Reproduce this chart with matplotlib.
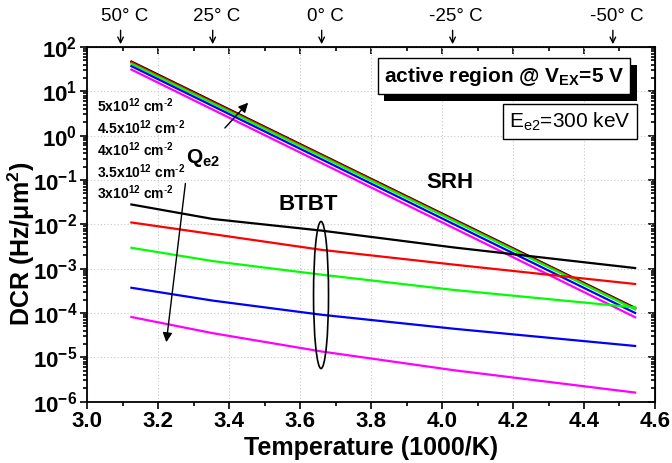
import numpy as np
import matplotlib
matplotlib.use('Agg')
from matplotlib import pyplot as plt
from matplotlib.patches import Ellipse
from matplotlib.ticker import MultipleLocator, LogLocator, NullFormatter
from matplotlib import patheffects

plt.rcParams['font.family'] = ['Liberation Sans', 'DejaVu Sans']
plt.rcParams['mathtext.fontset'] = 'custom'
plt.rcParams['mathtext.rm'] = 'Liberation Sans'
plt.rcParams['mathtext.bf'] = 'Liberation Sans:bold'
plt.rcParams['mathtext.it'] = 'Liberation Sans:italic'
plt.rcParams['mathtext.default'] = 'bf'

# inverse temperature points (1000/K)
inv_t = [3.125, 3.354, 3.661, 4.034, 4.544]

# SRH contribution, per Q_e2 dose
srh_5 = [47, 5.96, 0.373, 0.0129, 1.3e-4]
srh_45 = [45, 5.70, 0.359, 0.0124, 1.25e-4]
srh_4 = [42, 5.35, 0.338, 0.0118, 1.2e-4]
srh_35 = [37, 4.67, 0.292, 0.0100, 1.0e-4]
srh_3 = [31, 3.88, 0.240, 0.00815, 8e-5]

# BTBT contribution, per Q_e2 dose
btbt_5 = [2.8e-2, 1.32e-2, 7.2e-3, 3.0e-3, 1.03e-3]
btbt_45 = [1.1e-2, 6.0e-3, 2.65e-3, 1.23e-3, 4.5e-4]
btbt_4 = [2.95e-3, 1.48e-3, 7.3e-4, 3.3e-4, 1.33e-4]
btbt_35 = [3.7e-4, 1.9e-4, 9.1e-5, 4.4e-5, 1.8e-5]
btbt_3 = [8.1e-5, 3.5e-5, 1.35e-5, 5.1e-6, 1.6e-6]

colors = ['black', '#ff0000', '#00ff00', '#0000ff', '#ff00ff']
dose_labels = [r'5x10$^{12}$ cm$^{\text{-}2}$', r'4.5x10$^{12}$ cm$^{\text{-}2}$',
               r'4x10$^{12}$ cm$^{\text{-}2}$', r'3.5x10$^{12}$ cm$^{\text{-}2}$',
               r'3x10$^{12}$ cm$^{\text{-}2}$']
temps_c = [50, 25, 0, -25, -50]
xticks = [3.0, 3.2, 3.4, 3.6, 3.8, 4.0, 4.2, 4.4, 4.6]

fig = plt.figure(figsize=(6.72, 4.63), dpi=100)
ax = fig.add_axes([0.1295, 0.1326, 0.8452, 0.7659])

for s, c in zip([srh_5, srh_45, srh_4, srh_35, srh_3], colors):
    ax.plot(inv_t, s, color=c, lw=1.6, zorder=3)
for s, c in zip([btbt_5, btbt_45, btbt_4, btbt_35, btbt_3], colors):
    ax.plot(inv_t, s, color=c, lw=1.6, zorder=3)

ax.set_yscale('log')
ax.set_xlim(3.0, 4.6)
ax.set_ylim(1e-6, 1e2)
ax.set_xticks(xticks)
ax.set_xticklabels(['%.1f' % v for v in xticks])
ax.xaxis.set_minor_locator(MultipleLocator(0.1))
ax.set_yticks([10.0 ** k for k in range(-6, 3)])
ax.set_yticklabels([r'10$^{%d}$' % k for k in range(-6, 3)])
ax.yaxis.set_minor_locator(LogLocator(base=10, subs=np.arange(2, 10), numticks=20))
ax.yaxis.set_minor_formatter(NullFormatter())
ax.grid(True, which='major', color='#c8c8c8', linestyle=(0, (1, 2)), lw=0.8)

ax.tick_params(which='both', direction='out', labelsize=16, width=1.2, pad=2)
ax.tick_params(which='major', length=5)
ax.tick_params(which='minor', length=3)
for lab in ax.get_xticklabels() + ax.get_yticklabels():
    lab.set_fontweight('bold')
for sp in ax.spines.values():
    sp.set_linewidth(1.3)

top = ax.secondary_xaxis('top')
top.set_xticks(xticks)
top.xaxis.set_minor_locator(MultipleLocator(0.1))
top.tick_params(which='both', direction='in', labeltop=False, width=1.2)
top.tick_params(which='major', length=5)
top.tick_params(which='minor', length=3)
right = ax.secondary_yaxis('right')
right.yaxis.set_major_locator(LogLocator(base=10, numticks=20))
right.yaxis.set_minor_locator(LogLocator(base=10, subs=np.arange(2, 10), numticks=20))
right.tick_params(which='both', direction='in', labelright=False, width=1.2)
right.tick_params(which='major', length=5)
right.tick_params(which='minor', length=3)

ax.set_xlabel('Temperature (1000/K)', fontsize=18, fontweight='bold', labelpad=3)
ax.set_ylabel(r'DCR (Hz/$\mu$m$^2$)', fontsize=18, fontweight='bold')
ax.yaxis.set_label_coords(-0.088, 0.444)

# temperature markers on top
for t in temps_c:
    xv = 1000.0 / (t + 273.15)
    ax.annotate('', xy=(xv, 1.0), xycoords=('data', 'axes fraction'),
                xytext=(xv, 1.055), textcoords=('data', 'axes fraction'),
                arrowprops=dict(arrowstyle='->', lw=1.0, color='black'))
    ax.text(xv + 0.01, 1.062, '%d° C' % t, transform=ax.get_xaxis_transform(),
            ha='center', va='bottom', fontsize=13.5, clip_on=False)

# dose labels
for i, lab in enumerate(dose_labels):
    ax.text(0.0176, 0.834 - i * 0.0615, lab, transform=ax.transAxes, fontsize=10,
            fontweight='bold', va='center', ha='left')

ax.text(0.174, 0.673, r'Q$_{e2}$', transform=ax.transAxes, fontsize=15, fontweight='bold',
        va='baseline', ha='left')
ax.annotate('', xy=(0.287, 0.8486), xycoords='axes fraction', xytext=(0.2394, 0.7659),
            arrowprops=dict(arrowstyle='-|>', lw=1.0, color='black', mutation_scale=14))
ax.annotate('', xy=(0.139, 0.1596), xycoords='axes fraction', xytext=(0.1738, 0.623),
            arrowprops=dict(arrowstyle='-|>', lw=1.0, color='black', mutation_scale=14))

ax.text(0.389, 0.556, 'BTBT', transform=ax.transAxes, fontsize=16, fontweight='bold',
        ha='center', va='center')
ax.text(0.639, 0.618, 'SRH', transform=ax.transAxes, fontsize=16, fontweight='bold',
        ha='center', va='center')
ax.add_patch(Ellipse((0.412, 0.3006), 0.0264, 0.4146, transform=ax.transAxes,
                     fill=False, lw=1.2, color='black', zorder=4))

# boxed labels
box = ax.text(0.734, 0.918, r'active region @ V$_{EX}$=5 V', transform=ax.transAxes,
              fontsize=15, fontweight='bold', ha='center', va='center',
              bbox=dict(boxstyle='square,pad=0.3', fc='white', ec='black', lw=1.0), zorder=6)
box.get_bbox_patch().set_path_effects([
    patheffects.SimplePatchShadow(offset=(5, -5), shadow_rgbFace='black', alpha=1.0),
    patheffects.Normal()])
ax.text(0.850, 0.789, r'E$_{\mathrm{e2}}$=300 keV', transform=ax.transAxes, fontsize=15,
        ha='center', va='center',
        bbox=dict(boxstyle='square,pad=0.3', fc='white', ec='black', lw=1.0), zorder=6)

fig.savefig('out.png', dpi=100)
